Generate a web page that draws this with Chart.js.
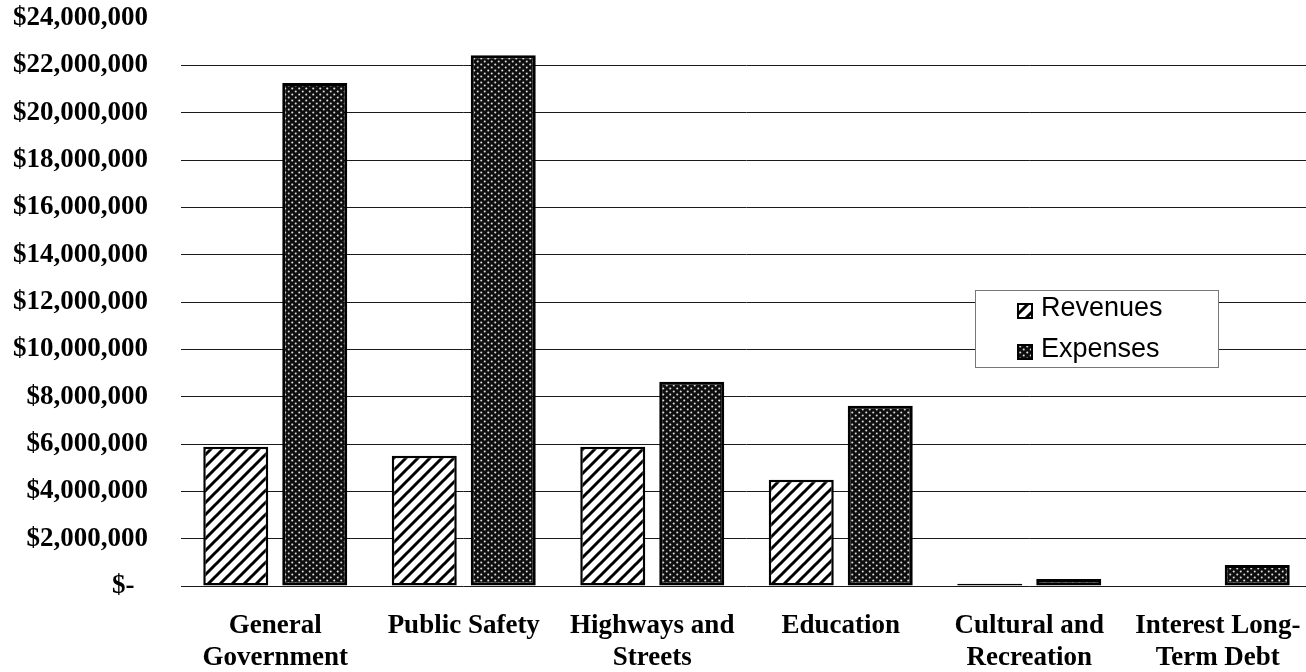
<!DOCTYPE html>
<html>
<head>
<meta charset="utf-8">
<script src="https://cdn.jsdelivr.net/npm/chart.js@4/dist/chart.umd.min.js"></script>
<style>
  html, body { margin: 0; padding: 0; background: #fff; overflow: hidden; }
  #wrap { width: 1320px; height: 672px; position: relative; }
</style>
</head>
<body>
<div id="wrap"><canvas id="c"></canvas></div>
<script>
const categories = [
  ['General', 'Government'],
  ['Public Safety'],
  ['Highways and', 'Streets'],
  ['Education'],
  ['Cultural and', 'Recreation'],
  ['Interest Long-', 'Term Debt']
];
const revenues = [5880000, 5500000, 5880000, 4490000, 90000, 0];
const expenses = [21250000, 22430000, 8630000, 7620000, 300000, 890000];
const seriesNames = ['Revenues', 'Expenses'];
const yTickValues = [0, 2000000, 4000000, 6000000, 8000000, 10000000, 12000000,
  14000000, 16000000, 18000000, 20000000, 22000000, 24000000];

function hatchPattern() {
  const s = 12;
  const c = document.createElement('canvas');
  c.width = s; c.height = s;
  const g = c.getContext('2d');
  g.fillStyle = '#fff';
  g.fillRect(0, 0, s, s);
  g.strokeStyle = '#000';
  g.lineWidth = 3;
  g.beginPath();
  g.moveTo(-3, 3); g.lineTo(3, -3);
  g.moveTo(0, s); g.lineTo(s, 0);
  g.moveTo(s - 3, s + 3); g.lineTo(s + 3, s - 3);
  g.stroke();
  return g.createPattern(c, 'repeat');
}
function dotPattern() {
  const w = 7, h = 6;
  const c = document.createElement('canvas');
  c.width = w; c.height = h;
  const g = c.getContext('2d');
  g.fillStyle = '#0e0e0e';
  g.fillRect(0, 0, w, h);
  g.fillStyle = '#dcdcdc';
  g.beginPath();
  g.arc(1.75, 1.5, 1.05, 0, Math.PI * 2);
  g.arc(5.25, 4.5, 1.05, 0, Math.PI * 2);
  g.fill();
  return g.createPattern(c, 'repeat');
}

const revFill = hatchPattern();
const expFill = dotPattern();

const serif = "'Liberation Serif', 'Times New Roman', serif";
const sans = "'Liberation Sans', Arial, sans-serif";

const legendBox = {
  id: 'legendBox',
  afterDraw(chart) {
    const ctx = chart.ctx;
    const x = 975.5, y = 290.5, w = 243, h = 77;
    ctx.save();
    ctx.fillStyle = '#fff';
    ctx.fillRect(x, y, w, h);
    ctx.strokeStyle = '#777';
    ctx.lineWidth = 1;
    ctx.strokeRect(x, y, w, h);
    const rows = [316, 357];
    chart.data.datasets.forEach((ds, i) => {
      const by = rows[i];
      ctx.fillStyle = ds.backgroundColor;
      ctx.fillRect(1018, by - 12, 14, 14);
      ctx.strokeStyle = '#000';
      ctx.lineWidth = 2;
      ctx.strokeRect(1018, by - 12, 14, 14);
      ctx.fillStyle = '#000';
      ctx.font = '27px ' + sans;
      ctx.textAlign = 'left';
      ctx.textBaseline = 'alphabetic';
      ctx.fillText(ds.label, 1041, by);
    });
    ctx.restore();
  }
};

new Chart(document.getElementById('c'), {
  type: 'bar',
  data: {
    labels: categories,
    datasets: [
      {
        label: seriesNames[0],
        data: revenues,
        backgroundColor: revFill,
        borderColor: '#000',
        borderWidth: 2.5,
        borderSkipped: false,
        categoryPercentage: 0.838,
        barPercentage: 0.823
      },
      {
        label: seriesNames[1],
        data: expenses,
        backgroundColor: expFill,
        borderColor: '#000',
        borderWidth: 3,
        borderSkipped: false,
        categoryPercentage: 0.838,
        barPercentage: 0.823
      }
    ]
  },
  options: {
    responsive: true,
    maintainAspectRatio: false,
    animation: false,
    layout: { padding: { top: 18, right: 8, left: 0, bottom: 0 } },
    plugins: {
      legend: { display: false },
      tooltip: { enabled: false }
    },
    scales: {
      x: {
        grid: { display: false, drawTicks: false },
        border: { display: false },
        ticks: {
          color: '#000',
          padding: 24,
          maxRotation: 0,
          autoSkip: false,
          font: { family: serif, size: 27, weight: 'bold', lineHeight: 1.185 }
        },
        afterFit(scale) {
          scale.height = 86;
          scale.paddingLeft = 0; scale.paddingRight = 0;
        }
      },
      y: {
        min: 0,
        max: 24000000,
        afterBuildTicks(scale) {
          scale.ticks = yTickValues.map(v => ({ value: v }));
        },
        grid: {
          drawTicks: false,
          lineWidth: 1,
          color: (c) => (c.tick && c.tick.value === 24000000) ? 'rgba(0,0,0,0)' : '#1a1a1a'
        },
        border: { display: false },
        ticks: {
          color: '#000',
          padding: 33,
          font: { family: serif, size: 27, weight: 'bold' },
          callback: (v) => v === 0 ? '$-  ' : '$' + Number(v).toLocaleString('en-US')
        },
        afterFit(scale) {
          scale.width = 181;
          scale.paddingTop = 0; scale.paddingBottom = 0;
        }
      }
    }
  },
  plugins: [legendBox]
});
</script>
</body>
</html>
